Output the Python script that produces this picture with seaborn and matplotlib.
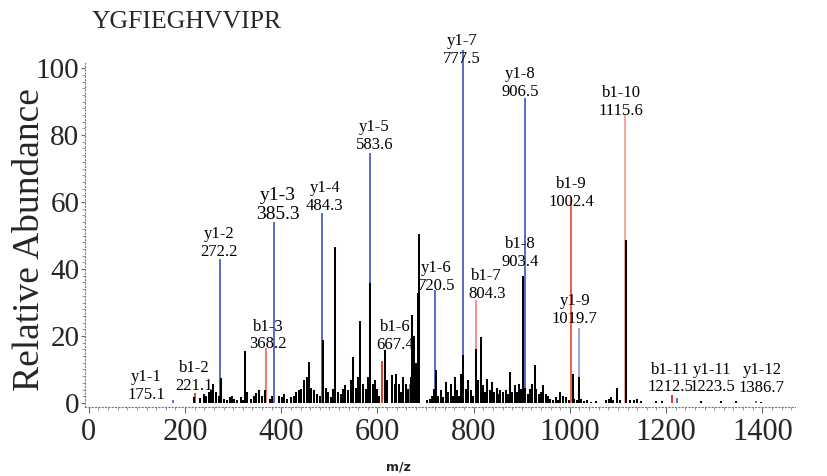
import matplotlib
matplotlib.use("Agg")
import matplotlib.pyplot as plt
import seaborn as sns
import pandas as pd
from matplotlib.ticker import MultipleLocator, FixedLocator

# ---------------- data ----------------
peptide = "YGFIEGHVVIPR"

# annotated fragment ions
ion_names = ["y1-1", "b1-2", "y1-2", "b1-3", "y1-3", "y1-4", "y1-5", "b1-6", "y1-6",
             "y1-7", "b1-7", "b1-8", "y1-8", "b1-9", "b1-10", "y1-9", "b1-11",
             "y1-11", "y1-12"]
ion_mz = [175.1, 221.1, 272.2, 368.2, 385.3, 484.3, 583.6, 667.4, 720.5,
          777.5, 804.3, 903.4, 906.5, 1002.4, 1115.6, 1019.7, 1212.5,
          1223.5, 1386.7]
ion_int = [0.8, 3.0, 43.0, 16.4, 54.0, 56.7, 74.6, 5.6, 33.7,
           105.5, 30.7, 38.0, 91.0, 61.5, 86.0, 22.4, 2.4,
           1.5, 0.5]

# extra unlabeled b-type peak
extra_b_mz = [609.0]
extra_b_int = [12.6]

# unassigned (black) peaks
noise_mz = [216.8, 229, 237.6, 243, 248, 253, 257, 262, 269, 274, 279, 286, 292, 297,
            301, 307, 314, 320, 324, 328, 335, 342, 347, 352, 359, 364, 375, 380,
            394, 399, 404, 411, 418, 425, 430, 435, 440, 446, 451, 456, 461, 466,
            472, 479, 486, 491, 495, 501, 507, 511, 516, 522, 527, 532, 537, 543,
            547, 553, 558, 563, 569, 574, 579, 584, 589, 593, 597, 601, 614, 619,
            629, 634, 638, 643, 648, 652, 657, 662, 669, 671, 674, 679, 683, 685,
            702, 707, 712, 716, 721, 725, 730, 735, 740, 745, 751, 755, 759, 764,
            769, 773, 777, 782, 786, 792, 798, 804, 808, 813, 818, 822, 827, 832,
            836, 841, 846, 851, 854, 860, 865, 870, 874, 879, 884, 888, 893, 896,
            902, 906, 911, 915, 920, 925, 929, 934, 939, 943, 948, 953, 958, 964,
            969, 974, 979, 985, 990, 997, 1004, 1008, 1014, 1017, 1022, 1028, 1035,
            1042, 1052, 1073, 1079, 1085, 1089, 1096, 1102, 1116, 1123, 1131, 1139,
            1146, 1177, 1191, 1271, 1312, 1343, 1395]
noise_int = [1.8, 1.5, 2.7, 2.2, 3.3, 3.8, 5.8, 3.3, 2.0, 7.5, 1.2, 0.8, 1.8, 2.2,
             1.2, 1.0, 1.8, 0.8, 15.5, 3.3, 1.2, 2.2, 2.9, 3.8, 2.2, 3.8, 1.2, 2.2,
             2.2, 1.8, 2.7, 1.2, 1.8, 2.2, 3.3, 3.8, 4.3, 6.8, 7.8, 12.2, 4.6, 3.8,
             2.7, 2.2, 18.7, 4.6, 3.3, 1.8, 4.3, 46.7, 3.3, 2.7, 4.3, 5.3, 3.8, 6.8,
             13.8, 4.6, 7.8, 24.6, 5.6, 4.3, 7.8, 35.8, 5.6, 6.8, 4.3, 2.2, 15.7, 6.8,
             8.3, 5.6, 8.8, 5.6, 3.3, 7.8, 5.6, 4.3, 7.8, 26.3, 20.0, 12.0, 32.8, 50.6,
             0.8, 1.2, 2.0, 4.3, 9.8, 2.2, 3.8, 1.8, 6.3, 3.3, 5.6, 2.2, 7.8, 3.8,
             2.2, 8.8, 14.2, 4.3, 6.8, 3.8, 2.2, 16.2, 6.8, 19.7, 5.3, 3.3, 7.2, 3.8,
             6.3, 3.3, 4.6, 2.7, 3.8, 3.3, 3.8, 2.7, 9.2, 3.3, 5.3, 3.3, 5.6, 4.3,
             38.0, 4.6, 2.7, 4.3, 5.6, 11.2, 4.3, 2.7, 3.3, 5.3, 2.7, 2.2, 1.2, 0.8,
             1.8, 0.8, 3.3, 2.2, 1.8, 0.8, 8.6, 1.2, 0.8, 7.8, 1.2, 0.5, 0.8,
             0.4, 0.5, 0.8, 1.3, 1.8, 1.0, 4.4, 1.0, 48.6, 1.0, 0.8, 1.3,
             0.6, 0.5, 0.5, 0.6, 0.5, 0.5, 0.4]

x_ticks = [0, 200, 400, 600, 800, 1000, 1200, 1400]
y_ticks = [0, 20, 40, 60, 80, 100]

# ---------------- style / layout ----------------
ion_color = {"y1-9": "#8d9be6", "b1-10": "#f7a090", "b1-7": "#f58a78",
             "b1-3": "#f27556", "b1-6": "#d8301c", "b1-2": "#e02a1a",
             "b1-11": "#e02a1a", "y1-11": "#4a62c4", "y1-12": "#4a62c4"}
# label offsets from peak top (pixels: dx, dy)
label_off = {"y1-1": (-27, 14), "b1-2": (-1, 16), "y1-2": (-1, 16), "b1-3": (2, 12.5),
             "y1-3": (4, 17), "y1-4": (3, 16), "y1-5": (5, 17.5), "b1-6": (-15, 48),
             "y1-6": (1, 13), "y1-7": (-1, 0), "b1-7": (11, 15), "b1-8": (-3, 22.5),
             "y1-8": (-5, 15), "b1-9": (0, 4), "b1-10": (-4.5, 13), "y1-9": (-4.5, 18),
             "b1-11": (-2, 16.5), "y1-11": (34.5, 19.5), "y1-12": (6, 22.5)}

sns.set_theme(style="white")
plt.rcParams["font.family"] = ["Liberation Serif", "DejaVu Serif"]

ions = pd.DataFrame({"name": ion_names, "mz": ion_mz, "intensity": ion_int})
ions["kind"] = ions["name"].str[0]
noise = pd.DataFrame({"mz": noise_mz, "intensity": noise_int})

W, H, DPI = 828, 476, 100
fig = plt.figure(figsize=(W / DPI, H / DPI), dpi=DPI)
ax = fig.add_axes([85 / W, 1 - 407 / H, (795 - 85) / W, (407 - 41) / H])

blue = "#4a62c4"
red = "#f0502e"
for _, r in ions.iterrows():
    c = ion_color.get(r["name"], blue if r["kind"] == "y" else red)
    ax.vlines(r["mz"], 0, r["intensity"], color=c, lw=1.3, zorder=2)
ax.vlines(extra_b_mz, 0, extra_b_int, color="#d8301c", lw=1.3, zorder=2)
ax.vlines(noise["mz"] + 1.5, 0, noise["intensity"], color="black", lw=1.45, zorder=3)

for _, r in ions.iterrows():
    dx, dy = label_off[r["name"]]
    fs = 14 if r["name"] == "y1-3" else 12
    ax.annotate(f'{r["name"]}\n{r["mz"]:.1f}', xy=(r["mz"], r["intensity"]),
                xytext=(dx * 0.72, dy * 0.72), textcoords="offset points",
                ha="center", va="center", fontsize=fs, linespacing=1.15,
                color="black", zorder=5)

ax.set_xlim(-8, 1468)
ax.set_ylim(-1.2, 108.1)
sns.despine(ax=ax, top=True, right=True)
for s in ("left", "bottom"):
    ax.spines[s].set_linestyle((0, (1, 2)))
    ax.spines[s].set_color("#777777")
    ax.spines[s].set_linewidth(0.8)
ax.spines["left"].set_bounds(-1.2, 101.5)

ax.set_xticks(x_ticks)
ax.set_xticklabels([str(t) for t in x_ticks], fontsize=22)
ax.set_yticks(y_ticks)
ax.set_yticklabels([str(t) for t in y_ticks], fontsize=21)
ax.xaxis.set_minor_locator(MultipleLocator(20))
ax.yaxis.set_minor_locator(FixedLocator(list(range(0, 101, 2))))
ax.tick_params(axis="x", which="major", length=4, width=0.8, color="#666666", pad=4, direction="out")
ax.tick_params(axis="x", which="minor", length=2, width=0.6, color="#888888", direction="out")
ax.tick_params(axis="y", which="major", length=3, width=0.8, color="#666666", pad=1, direction="out")
ax.tick_params(axis="y", which="minor", length=2, width=0.6, color="#888888", direction="out")
ax.tick_params(bottom=True, left=True, which="both")
ax.grid(False)

fig.text(187 / W, 1 - 22 / H, peptide, ha="center", va="center", fontsize=18.5)
fig.text(30 / W, 1 - 240 / H, "Relative Abundance", rotation=90, ha="center",
         va="center", fontsize=27)
fig.text(398 / W, 1 - 467 / H, "m/z", ha="center", va="center", fontsize=9,
         fontweight="bold", family=["DejaVu Sans"])

fig.savefig("out.png", dpi=DPI)
